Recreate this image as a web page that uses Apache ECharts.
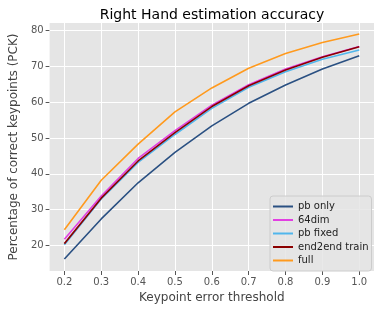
<!DOCTYPE html>
<html><head><meta charset="utf-8">
<script src="https://cdn.jsdelivr.net/npm/echarts@6/dist/echarts.min.js"></script>
<style>html,body{margin:0;padding:0;background:#fff}#c{width:382px;height:309px}</style>
</head><body><div id="c"></div>
<script>
const thresholds = [0.2, 0.3, 0.4, 0.5, 0.6, 0.7, 0.8, 0.9, 1.0];
const pbOnly   = [16.2, 27.4, 37.5, 46.0, 53.4, 59.7, 64.8, 69.3, 73.0];
const dim64    = [21.7, 33.8, 44.3, 52.1, 59.2, 64.9, 69.3, 72.7, 75.6];
const pbFixed  = [20.2, 33.0, 43.2, 51.0, 58.3, 64.2, 68.5, 72.0, 74.6];
const end2end  = [20.5, 33.2, 43.6, 51.5, 58.8, 64.6, 69.0, 72.6, 75.5];
const full     = [24.4, 38.2, 48.3, 57.3, 64.0, 69.5, 73.6, 76.7, 79.1];
const xTicks = [0.2, 0.3, 0.4, 0.5, 0.6, 0.7, 0.8, 0.9, 1.0];
const yTicks = [20, 30, 40, 50, 60, 70, 80];
const seriesNames = ['pb only', '64dim', 'pb fixed', 'end2end train', 'full'];
const seriesData = [pbOnly, dim64, pbFixed, end2end, full];
const colors = ['#2a5082', '#e23fe2', '#50b6ec', '#8b0000', '#ff9a1e'];

const font = 'DejaVu Sans';
const chart = echarts.init(document.getElementById('c'));
chart.setOption({
  animation: false,
  backgroundColor: '#fff',
  title: {text: 'Right Hand estimation accuracy', left: 207, textAlign: 'center', top: 3,
    textStyle: {fontFamily: font, fontSize: 14, fontWeight: 'normal', color: '#000'}},
  grid: {left: 40, right: 8, top: 23, bottom: 38, show: true, backgroundColor: '#e5e5e5', borderWidth: 0},
  xAxis: {type: 'value', min: 0.16, max: 1.04,
    name: 'Keypoint error threshold', nameLocation: 'middle', nameGap: 19,
    nameTextStyle: {fontFamily: font, fontSize: 12, color: '#444'},
    axisLine: {show: false},
    axisTick: {show: true, length: 4, customValues: xTicks, lineStyle: {color: '#555'}},
    axisLabel: {customValues: xTicks, formatter: v => v.toFixed(1), fontFamily: font, fontSize: 10, color: '#555', margin: 6},
    splitLine: {show: false}},
  yAxis: {type: 'value', min: 12.85, max: 82.15,
    name: 'Percentage of correct keypoints (PCK)', nameLocation: 'middle', nameGap: 26,
    nameTextStyle: {fontFamily: font, fontSize: 12, color: '#444'},
    axisLine: {show: false},
    axisTick: {show: true, length: 4, customValues: yTicks, lineStyle: {color: '#555'}},
    axisLabel: {customValues: yTicks, fontFamily: font, fontSize: 10, color: '#555', margin: 6},
    splitLine: {show: false}},
  legend: {orient: 'vertical', left: 270, top: 196, z: 10, data: seriesNames, icon: 'rect',
    itemWidth: 20, itemHeight: 2, itemGap: 2.5,
    backgroundColor: 'rgba(229,229,229,0.85)', borderColor: '#cccccc', borderWidth: 1, borderRadius: 3,
    padding: [5, 3, 5, 3],
    textStyle: {fontFamily: font, fontSize: 10, color: '#222', lineHeight: 11}},
  series: [
    {type: 'line', name: '__grid', silent: true, data: [], symbol: 'none', z: 1,
      markLine: {silent: true, symbol: 'none', z: 1, label: {show: false}, animation: false,
        lineStyle: {color: '#fff', width: 1, type: 'solid'},
        data: xTicks.map(v => ({xAxis: v})).concat(yTicks.map(v => ({yAxis: v})))}}
  ].concat(seriesNames.map((n, i) => ({
    type: 'line', name: n, symbol: 'none', showSymbol: false, z: 3 + i,
    data: thresholds.map((t, j) => [t, seriesData[i][j]]),
    lineStyle: {color: colors[i], width: 1.6}, itemStyle: {color: colors[i]}
  })))
});
</script></body></html>
